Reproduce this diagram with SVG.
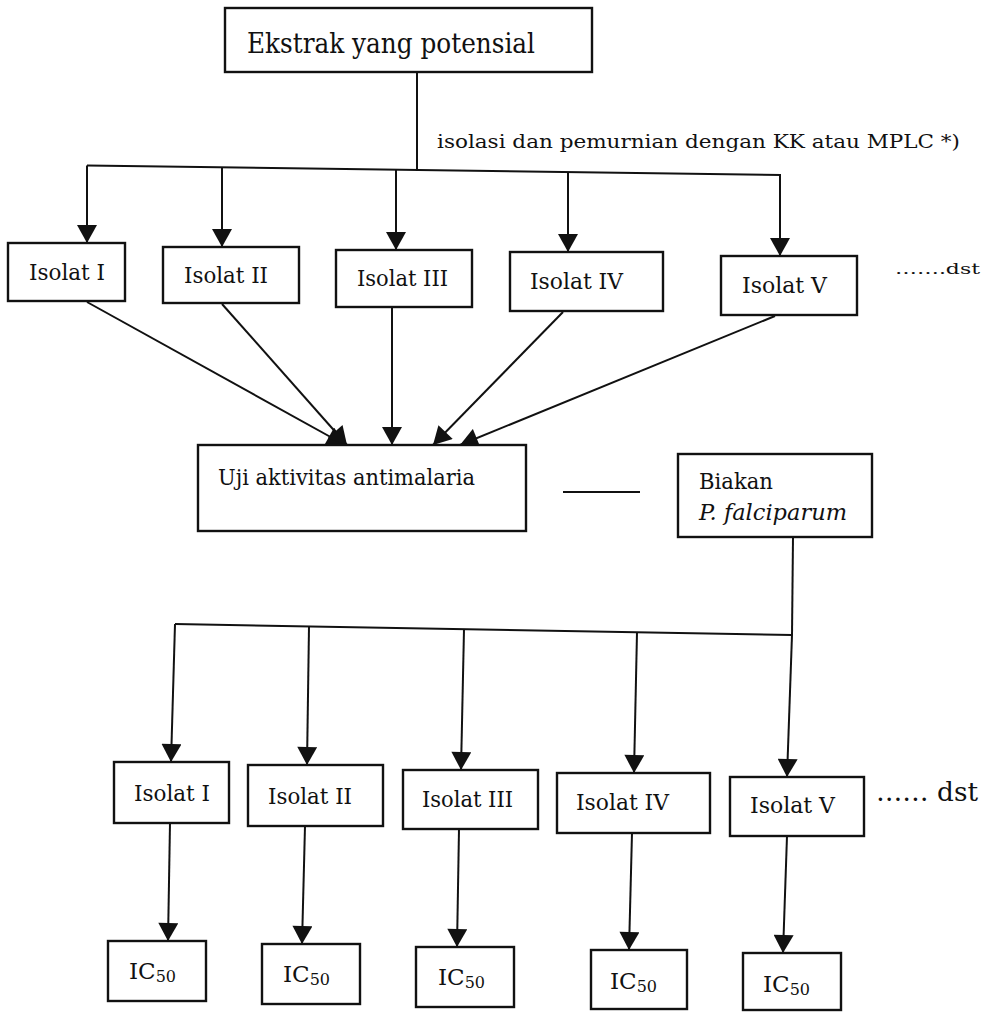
<svg xmlns="http://www.w3.org/2000/svg" width="988" height="1012" viewBox="0 0 988 1012">
<style>
.box{fill:#fff;stroke:#111;stroke-width:2.4}
.ln{fill:none;stroke:#111;stroke-width:2}
.t{font-family:"DejaVu Serif","Liberation Serif",serif;fill:#111}
.ar{marker-end:url(#ah)}
</style>
<defs>
<marker id="ah" markerUnits="userSpaceOnUse" markerWidth="20" markerHeight="20" viewBox="0 0 18 20" refX="18" refY="10" orient="auto">
<path d="M0,0 L18,10 L0,20 z" fill="#111"/>
</marker>
</defs>
<rect width="988" height="1012" fill="#fff"/>
<g id="connectors">
<line class="ln" x1="417" y1="72" x2="417" y2="171"/>
<line class="ln" x1="87" y1="165.5" x2="781" y2="175"/>
<line class="ln ar" x1="87" y1="165.5" x2="87" y2="243"/>
<line class="ln ar" x1="222" y1="167.5" x2="222" y2="247"/>
<line class="ln ar" x1="396" y1="170" x2="396" y2="250"/>
<line class="ln ar" x1="568" y1="172.5" x2="568" y2="252"/>
<line class="ln ar" x1="780" y1="175" x2="780" y2="256"/>
<line class="ln ar" x1="87" y1="302" x2="345" y2="445"/>
<line class="ln ar" x1="222" y1="304" x2="347" y2="445"/>
<line class="ln ar" x1="392" y1="308" x2="392" y2="445"/>
<line class="ln ar" x1="563" y1="312" x2="433" y2="445"/>
<line class="ln ar" x1="775" y1="316" x2="460" y2="445"/>
<line class="ln" x1="563" y1="492" x2="640" y2="492"/>
<line class="ln" x1="793" y1="537" x2="792" y2="635"/>
<line class="ln" x1="175" y1="624" x2="792" y2="635"/>
<line class="ln ar" x1="175" y1="624" x2="171" y2="762"/>
<line class="ln ar" x1="309" y1="626.4" x2="307" y2="765"/>
<line class="ln ar" x1="464" y1="629.2" x2="461" y2="770"/>
<line class="ln ar" x1="637" y1="632.2" x2="634" y2="773"/>
<line class="ln ar" x1="792" y1="635" x2="787" y2="777"/>
<line class="ln ar" x1="170" y1="823" x2="168" y2="941"/>
<line class="ln ar" x1="305" y1="826" x2="302" y2="944"/>
<line class="ln ar" x1="459" y1="829" x2="457" y2="947"/>
<line class="ln ar" x1="632" y1="833" x2="629" y2="950"/>
<line class="ln ar" x1="787" y1="836" x2="783" y2="953"/>
</g>
<g id="label-isolasi"><text class="t" x="437" y="148" font-size="19" textLength="523" lengthAdjust="spacingAndGlyphs">isolasi dan pemurnian  dengan KK atau MPLC *)</text></g>
<g id="ekstrak"><rect class="box" x="225" y="8" width="367" height="64"/><text class="t" x="247" y="53" font-size="28" textLength="288" lengthAdjust="spacingAndGlyphs">Ekstrak yang potensial</text></g>
<g id="isolat1a"><rect class="box" x="8" y="243" width="117" height="58"/><text class="t" x="29" y="280" font-size="22" textLength="76" lengthAdjust="spacingAndGlyphs">Isolat I</text></g>
<g id="isolat2a"><rect class="box" x="163" y="247" width="136" height="56"/><text class="t" x="184" y="283" font-size="22" textLength="84" lengthAdjust="spacingAndGlyphs">Isolat II</text></g>
<g id="isolat3a"><rect class="box" x="336" y="250" width="136" height="57"/><text class="t" x="357" y="286" font-size="22" textLength="91" lengthAdjust="spacingAndGlyphs">Isolat III</text></g>
<g id="isolat4a"><rect class="box" x="510" y="252" width="153" height="59"/><text class="t" x="530" y="289" font-size="22" textLength="93" lengthAdjust="spacingAndGlyphs">Isolat IV</text></g>
<g id="isolat5a"><rect class="box" x="721" y="256" width="136" height="59"/><text class="t" x="742" y="293" font-size="22" textLength="85" lengthAdjust="spacingAndGlyphs">Isolat V</text></g>
<g id="dst1"><text class="t" x="895" y="274" font-size="15" font-family="Liberation Sans, sans-serif" textLength="85" lengthAdjust="spacingAndGlyphs">…….dst</text></g>
<g id="uji"><rect class="box" x="198" y="445" width="328" height="86"/><text class="t" x="218" y="485" font-size="23" textLength="257" lengthAdjust="spacingAndGlyphs">Uji aktivitas antimalaria</text></g>
<g id="biakan"><rect class="box" x="678" y="454" width="194" height="83"/><text class="t" x="699" y="489" font-size="22" textLength="74" lengthAdjust="spacingAndGlyphs">Biakan</text><text class="t" x="699" y="520" font-size="22" font-style="italic" textLength="148" lengthAdjust="spacingAndGlyphs">P. falciparum</text></g>
<g id="isolat1b"><rect class="box" x="114" y="762" width="115" height="61"/><text class="t" x="134" y="801" font-size="22" textLength="76" lengthAdjust="spacingAndGlyphs">Isolat I</text></g>
<g id="isolat2b"><rect class="box" x="248" y="765" width="135" height="61"/><text class="t" x="268" y="804" font-size="22" textLength="84" lengthAdjust="spacingAndGlyphs">Isolat II</text></g>
<g id="isolat3b"><rect class="box" x="403" y="770" width="135" height="59"/><text class="t" x="422" y="807" font-size="22" textLength="91" lengthAdjust="spacingAndGlyphs">Isolat III</text></g>
<g id="isolat4b"><rect class="box" x="557" y="773" width="153" height="60"/><text class="t" x="576" y="810" font-size="22" textLength="93" lengthAdjust="spacingAndGlyphs">Isolat IV</text></g>
<g id="isolat5b"><rect class="box" x="730" y="777" width="134" height="59"/><text class="t" x="750" y="813" font-size="22" textLength="85" lengthAdjust="spacingAndGlyphs">Isolat V</text></g>
<g id="dst2"><text class="t" x="876" y="801" font-size="26" textLength="102" lengthAdjust="spacingAndGlyphs">…… dst</text></g>
<g id="ic1"><rect class="box" x="108" y="941" width="98" height="60"/><text class="t" x="129" y="979" font-size="23">IC<tspan font-size="16" dy="3">50</tspan></text></g>
<g id="ic2"><rect class="box" x="262" y="944" width="98" height="60"/><text class="t" x="283" y="982" font-size="23">IC<tspan font-size="16" dy="3">50</tspan></text></g>
<g id="ic3"><rect class="box" x="416" y="947" width="98" height="60"/><text class="t" x="438" y="985" font-size="23">IC<tspan font-size="16" dy="3">50</tspan></text></g>
<g id="ic4"><rect class="box" x="591" y="950" width="96" height="59"/><text class="t" x="610" y="989" font-size="23">IC<tspan font-size="16" dy="3">50</tspan></text></g>
<g id="ic5"><rect class="box" x="743" y="953" width="98" height="57"/><text class="t" x="763" y="992" font-size="23">IC<tspan font-size="16" dy="3">50</tspan></text></g>
</svg>
